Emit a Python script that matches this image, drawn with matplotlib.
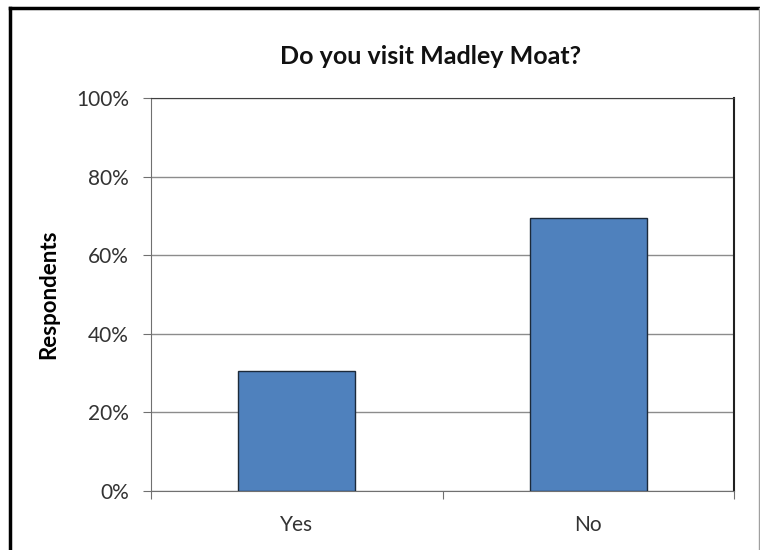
import matplotlib
matplotlib.use("Agg")
import matplotlib.pyplot as plt
from matplotlib.lines import Line2D
from matplotlib.ticker import FuncFormatter

# data
categories = ["Yes", "No"]
values = [30.5, 69.5]
y_ticks = [0, 20, 40, 60, 80, 100]

title = "Do you visit Madley Moat?"
y_label = "Respondents"

plt.rcParams['font.family'] = ['Lato', 'DejaVu Sans']

fig = plt.figure(figsize=(7.6, 5.5), dpi=100)
ax = fig.add_axes([151 / 760, 1 - 491 / 550, (734 - 151) / 760, (491 - 98) / 550])

x = list(range(len(categories)))
ax.bar(x, values, width=0.4, color='#4F81BD', edgecolor='#1c2a3a', linewidth=1, zorder=3)

ax.set_xlim(-0.5, len(categories) - 0.5)
ax.set_ylim(0, 100)
ax.set_yticks(y_ticks)
ax.yaxis.set_major_formatter(FuncFormatter(lambda v, p: f"{v:.0f}%"))
ax.grid(axis='y', color='#8c8c8c', linewidth=1, zorder=0)
ax.set_axisbelow(True)

# ticks at category boundaries, labels at centers
ax.set_xticks([i - 0.5 for i in range(len(categories) + 1)])
ax.set_xticklabels([])
ax.set_xticks(x, minor=True)
ax.set_xticklabels(categories, minor=True)
ax.tick_params(axis='x', which='major', direction='out', length=6, color='#707070')
ax.tick_params(axis='x', which='minor', length=0, pad=17, labelsize=15, labelcolor='#333333')
ax.tick_params(axis='y', direction='out', length=6, color='#707070', labelsize=15,
               labelcolor='#333333', pad=10)

for side in ['left', 'bottom']:
    ax.spines[side].set_color('#707070')
ax.spines['top'].set_color('#404040')
ax.spines['right'].set_color('#202020')
ax.spines['right'].set_linewidth(1.5)

ax.set_ylabel(y_label, fontsize=16, fontweight='bold', labelpad=12)
fig.text(431 / 760, 1 - 56 / 550, title, ha='center', va='center',
         fontsize=18, fontweight='bold', color='#111111')

# outer chart frame
fig.add_artist(Line2D([10 / 760, 10 / 760], [0, 1 - 8 / 550], color='black', linewidth=2.5,
                      transform=fig.transFigure))
fig.add_artist(Line2D([10 / 760, 759 / 760], [1 - 8 / 550, 1 - 8 / 550], color='black',
                      linewidth=2.5, transform=fig.transFigure))
fig.add_artist(Line2D([759 / 760, 759 / 760], [0, 1 - 8 / 550], color='#a0a0a0', linewidth=1,
                      transform=fig.transFigure))

fig.savefig("out.png", dpi=100)
